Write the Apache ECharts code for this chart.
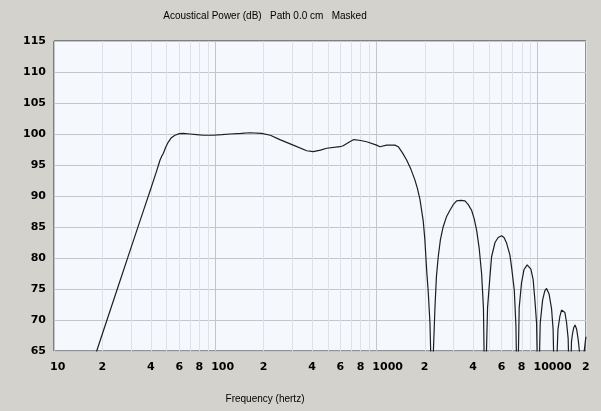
<!DOCTYPE html>
<html>
<head>
<meta charset="utf-8">
<script src="https://cdn.jsdelivr.net/npm/echarts@6/dist/echarts.min.js"></script>
<style>
html,body{margin:0;padding:0;background:#d4d2cc;}
#chart{width:601px;height:411px;}
</style>
</head>
<body>
<div id="chart"></div>
<script>
// Frequency (Hz) and acoustical power (dB)
const freqHz = [16, 18.4, 25, 30, 35, 40, 43.4, 44.5, 45.5, 46.6, 47.7, 49.4, 51.2, 53.5, 56.3, 60, 63.4, 69.8, 76.8, 84.4, 97.3, 110, 123.5, 145, 164, 194, 220, 252, 305, 370, 406, 450, 492, 594, 623, 680, 726, 800, 871, 1004, 1053, 1158, 1304, 1368, 1450, 1542, 1640, 1735, 1800, 1864, 1954, 2000, 2053, 2100, 2152, 2223, 2260, 2312, 2360, 2422, 2500, 2600, 2720, 2863, 3000, 3148, 3350, 3548, 3720, 3900, 4050, 4190, 4350, 4500, 4620, 4720, 4900, 5070, 5190, 5450, 5700, 5990, 6200, 6430, 6740, 6900, 7180, 7350, 7500, 7700, 7960, 8240, 8630, 8750, 9100, 9400, 9650, 9870, 10100, 10400, 10760, 11100, 11380, 11800, 12230, 12500, 12820, 13400, 13770, 14100, 14440, 14800, 15150, 15500, 15890, 16250, 16520, 16800, 17100, 17500, 17900, 18200, 18790, 19300, 19800, 20000];
const powerDb = [60.3, 65, 75.4, 81.6, 86.8, 91.3, 94.1, 95.0, 95.8, 96.4, 96.9, 97.9, 98.7, 99.4, 99.8, 100.05, 100.1, 100.0, 99.9, 99.8, 99.8, 99.9, 100.0, 100.1, 100.2, 100.1, 99.8, 99.1, 98.2, 97.3, 97.15, 97.4, 97.7, 97.95, 98.1, 98.7, 99.1, 98.95, 98.75, 98.2, 97.95, 98.2, 98.2, 97.95, 97.0, 95.8, 94.3, 92.6, 91.2, 89.5, 86.0, 83.0, 78.0, 74.5, 69.5, 55, 65, 72.1, 77.0, 80.2, 83.0, 85.05, 86.6, 87.7, 88.6, 89.2, 89.3, 89.2, 88.6, 87.7, 86.3, 84.5, 81.5, 77.5, 72.0, 55, 72.0, 77.0, 80.2, 82.5, 83.3, 83.6, 83.3, 82.4, 80.5, 78.6, 74.8, 69.0, 55, 72.0, 76.0, 78.1, 78.9, 78.9, 78.2, 76.5, 73.0, 69.5, 55, 69.5, 73.2, 74.7, 75.1, 74.2, 71.8, 68.5, 55, 68.5, 70.6, 71.6, 71.9, 71.2, 69.6, 67.0, 55, 66.5, 67.9, 68.8, 69.2, 68.5, 66.8, 65.0, 55, 64.0, 66.5, 67.3];

// Axis tick labels (Hz) and grid-line frequencies
const xLabelHz = [10, 20, 40, 60, 80, 100, 200, 400, 600, 800, 1000, 2000, 4000, 6000, 8000, 10000, 20000];
const xGridHz = [10,20,30,40,50,60,70,80,90,100,200,300,400,500,600,700,800,900,1000,2000,3000,4000,5000,6000,7000,8000,9000,10000,20000];
const yTicks = [65, 70, 75, 80, 85, 90, 95, 100, 105, 110, 115];

const lg = v => Math.log10(v);
const seriesData = freqHz.map((f, i) => [lg(f), powerDb[i]]);

const chart = echarts.init(document.getElementById('chart'), null, {renderer: 'canvas'});
const labelFont = {fontFamily: 'DejaVu Sans', fontWeight: 'bold', fontSize: 11, color: '#000'};
const thinFont = "'Liberation Sans', Arial, sans-serif";

chart.setOption({
  backgroundColor: '#d4d2cc',
  animation: false,
  title: {
    text: 'Acoustical Power (dB)   Path 0.0 cm   Masked',
    left: 260, top: 6, textAlign: 'center',
    textStyle: {fontFamily: thinFont, fontWeight: 'normal', fontSize: 10, color: '#000'}
  },
  grid: {
    left: 54, right: 15, top: 41, bottom: 60,
    show: true, backgroundColor: '#f5f9fd', borderColor: '#2a2a2a', borderWidth: 1
  },
  xAxis: {
    type: 'value',
    min: lg(10), max: lg(20000),
    name: 'Frequency (hertz)',
    nameLocation: 'middle',
    nameGap: 43,
    nameTextStyle: {fontFamily: thinFont, fontSize: 10, color: '#000', padding: [0, 110, 0, 0]},
    axisLine: {show: false},
    axisTick: {show: false, customValues: xGridHz.map(lg)},
    axisLabel: {
      customValues: xLabelHz.map(lg),
      margin: 11,
      align: 'left',
      padding: [0, 0, 0, -4],
      ...labelFont,
      formatter: v => {
        const f = Math.round(Math.pow(10, v));
        const p = Math.pow(10, Math.floor(Math.log10(f) + 1e-9));
        return f === p ? String(f) : String(Math.round(f / p));
      }
    },
    splitLine: {
      show: true,
      lineStyle: {color: ['#c3c7cc', '#dde2e8', '#dde2e8', '#dde2e8', '#dde2e8', '#dde2e8', '#dde2e8', '#dde2e8', '#dde2e8'], width: 1}
    }
  },
  yAxis: {
    type: 'value',
    min: 65, max: 115, interval: 5,
    axisLine: {show: false},
    axisTick: {show: false},
    axisLabel: {margin: 8, ...labelFont, customValues: yTicks},
    splitLine: {show: true, lineStyle: {color: '#c3c7cc', width: 1}}
  },
  series: [{
    type: 'line',
    data: seriesData,
    showSymbol: false,
    smooth: false,
    clip: true,
    lineStyle: {color: '#1e1e1e', width: 1.2}
  }]
});
</script>
</body>
</html>
